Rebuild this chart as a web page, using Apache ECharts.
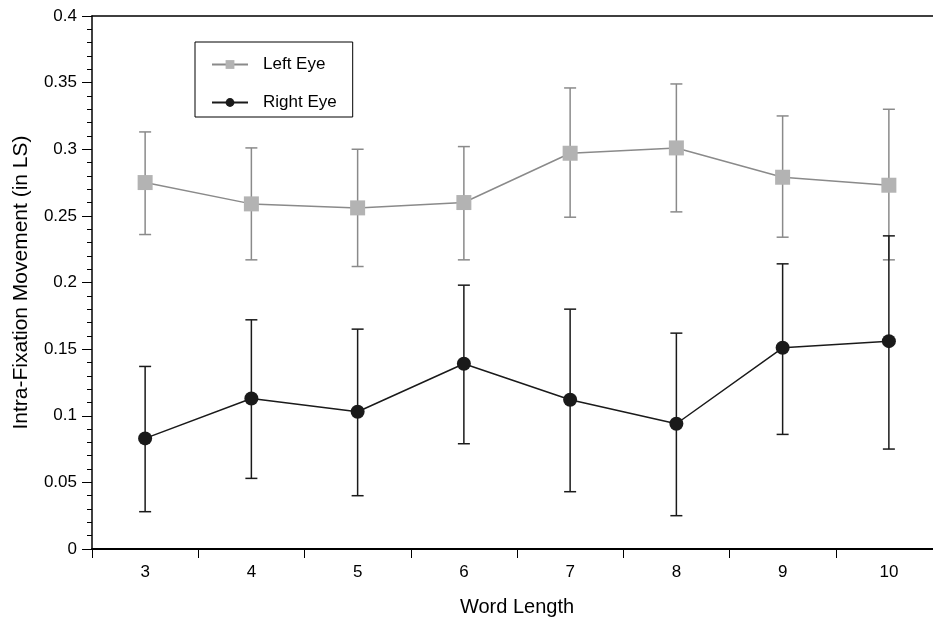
<!DOCTYPE html>
<html>
<head>
<meta charset="utf-8">
<title>Intra-Fixation Movement by Word Length</title>
<script src="https://cdn.jsdelivr.net/npm/echarts@6/dist/echarts.min.js"></script>
<style>
  html, body { margin: 0; padding: 0; background: #fff; }
  #chart { width: 933px; height: 617px; }
</style>
</head>
<body>
<div id="chart"></div>
<script>
// Word lengths on the x axis
const wordLengths = ['3', '4', '5', '6', '7', '8', '9', '10'];

// Left eye: mean movement and error-bar limits
const leftMean = [0.275, 0.259, 0.256, 0.260, 0.297, 0.301, 0.279, 0.273];
const leftLow  = [0.236, 0.217, 0.212, 0.217, 0.249, 0.253, 0.234, 0.217];
const leftHigh = [0.313, 0.301, 0.300, 0.302, 0.346, 0.349, 0.325, 0.330];

// Right eye: mean movement and error-bar limits
const rightMean = [0.083, 0.113, 0.103, 0.139, 0.112, 0.094, 0.151, 0.156];
const rightLow  = [0.028, 0.053, 0.040, 0.079, 0.043, 0.025, 0.086, 0.075];
const rightHigh = [0.137, 0.172, 0.165, 0.198, 0.180, 0.162, 0.214, 0.235];

const FONT = '"Liberation Sans", Arial, Helvetica, sans-serif';

function errorData(low, high) {
  return low.map((l, i) => [i, l, high[i]]);
}

// Vertical whisker with flat caps, placed through the axis scales
function errorRenderer(color) {
  return function (params, api) {
    const x = api.value(0);
    const lo = api.coord([x, api.value(1)]);
    const hi = api.coord([x, api.value(2)]);
    const half = 6;
    const style = { stroke: color, lineWidth: 1.5, fill: null };
    return {
      type: 'group',
      children: [
        { type: 'line', shape: { x1: lo[0], y1: lo[1], x2: hi[0], y2: hi[1] }, style },
        { type: 'line', shape: { x1: lo[0] - half, y1: lo[1], x2: lo[0] + half, y2: lo[1] }, style },
        { type: 'line', shape: { x1: hi[0] - half, y1: hi[1], x2: hi[0] + half, y2: hi[1] }, style }
      ]
    };
  };
}

const chart = echarts.init(document.getElementById('chart'), null, { renderer: 'canvas' });

chart.setOption({
  animation: false,
  backgroundColor: '#ffffff',
  textStyle: { fontFamily: FONT },
  // the plot runs on past the right edge of the page
  grid: {
    left: 92, top: 16, width: 850, height: 533,
    containLabel: false,
    outerBoundsMode: 'none'
  },
  legend: {
    data: ['Left Eye', 'Right Eye'],
    orient: 'vertical',
    left: 195,
    top: 42,
    padding: [14, 16, 6, 16],
    itemGap: 21,
    itemWidth: 36,
    itemHeight: 11,
    borderColor: '#000',
    borderWidth: 1,
    textStyle: { fontFamily: FONT, fontSize: 17, color: '#000', padding: [0, 0, 0, 10] }
  },
  xAxis: [
    {
      type: 'category',
      data: wordLengths,
      boundaryGap: true,
      name: 'Word Length',
      nameLocation: 'middle',
      nameGap: 58,
      nameMoveOverlap: false,
      nameTextStyle: { fontFamily: FONT, fontSize: 20, color: '#000', verticalAlign: 'middle' },
      axisLine: { show: true, lineStyle: { color: '#000', width: 2 } },
      axisTick: { show: true, alignWithLabel: false, length: 9, lineStyle: { color: '#000', width: 1 } },
      axisLabel: { fontFamily: FONT, fontSize: 17, color: '#000', margin: 15 },
      splitLine: { show: false }
    },
    {
      type: 'category',
      data: wordLengths,
      position: 'top',
      axisLine: { show: true, lineStyle: { color: '#000', width: 1.5 } },
      axisTick: { show: false },
      axisLabel: { show: false },
      splitLine: { show: false }
    }
  ],
  yAxis: {
    type: 'value',
    min: 0,
    max: 0.4,
    interval: 0.05,
    name: 'Intra-Fixation Movement (in LS)',
    nameLocation: 'middle',
    nameGap: 71,
    nameMoveOverlap: false,
    nameRotate: 90,
    nameTextStyle: { fontFamily: FONT, fontSize: 21, color: '#000', verticalAlign: 'middle' },
    axisLine: { show: true, lineStyle: { color: '#000', width: 1.5 } },
    axisTick: { show: true, length: 10, lineStyle: { color: '#000', width: 1 } },
    minorTick: { show: true, splitNumber: 5, length: 5, lineStyle: { color: '#000', width: 1 } },
    axisLabel: {
      fontFamily: FONT, fontSize: 17, color: '#000', margin: 15,
      formatter: v => String(Math.round(v * 100) / 100)
    },
    splitLine: { show: false },
    minorSplitLine: { show: false }
  },
  series: [
    {
      name: 'Left Eye range',
      type: 'custom',
      renderItem: errorRenderer('#8a8a8a'),
      data: errorData(leftLow, leftHigh),
      encode: { x: 0, y: [1, 2] },
      z: 2,
      silent: true
    },
    {
      name: 'Left Eye',
      type: 'line',
      data: leftMean,
      symbol: 'rect',
      symbolSize: 15,
      itemStyle: { color: '#b3b3b3' },
      lineStyle: { color: '#8a8a8a', width: 1.5 },
      z: 3
    },
    {
      name: 'Right Eye range',
      type: 'custom',
      renderItem: errorRenderer('#1a1a1a'),
      data: errorData(rightLow, rightHigh),
      encode: { x: 0, y: [1, 2] },
      z: 4,
      silent: true
    },
    {
      name: 'Right Eye',
      type: 'line',
      data: rightMean,
      symbol: 'circle',
      symbolSize: 14,
      itemStyle: { color: '#1a1a1a' },
      lineStyle: { color: '#1a1a1a', width: 1.5 },
      z: 5
    }
  ]
});
</script>
</body>
</html>
